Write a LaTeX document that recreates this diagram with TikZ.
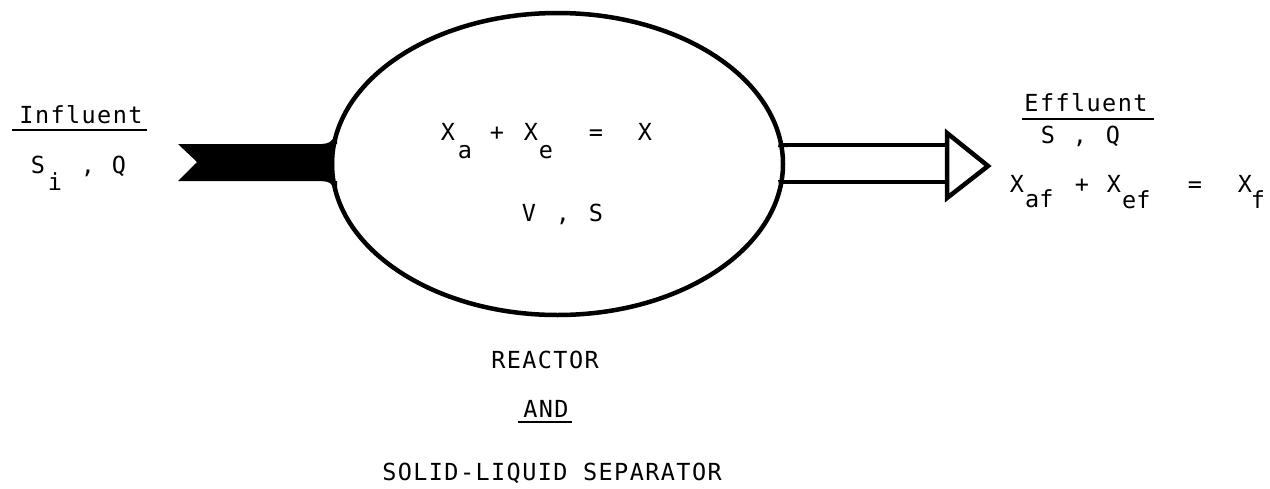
\documentclass[tikz,border=0pt]{standalone}
\usepackage{fontspec}
\newfontfamily\lab[LetterSpace=6]{DejaVu Sans Mono}
\newfontfamily\symf{DejaVu Sans Mono}
\usetikzlibrary{shapes.geometric}
\begin{document}
\begin{tikzpicture}[x=1pt,y=-1pt,
  word/.style={font={\lab\fontsize{23.5}{28}\selectfont}, inner sep=0, anchor=base},
  sym/.style={font={\symf\fontsize{23.5}{28}\selectfont}, inner sep=0, anchor=base},
  outline/.style={line width=4pt, line join=miter, line cap=butt},
  uline/.style={line width=1.4pt}]
\useasboundingbox (0,0) rectangle (1270,488);

% reactor vessel
\node[draw, ellipse, line width=4.5pt, minimum width=451pt, minimum height=302pt, inner sep=0] (reactor) at (557.5,164) {};

% influent band (solid, notched tail)
\coordinate (inTop) at (178,144);
\coordinate (inNotch) at (197,162);
\coordinate (inBot) at (178,181);
\coordinate (inTopR) at (334,144);
\coordinate (inBotR) at (334,181);
\fill (inTop) -- (inTopR) -- (inBotR) -- (inBot) -- (inNotch) -- cycle;
\fill (322,144) .. controls (330,143) .. (337,134) -- (337,144) -- cycle;
\fill (322,181) .. controls (330,182) .. (337,191) -- (337,181) -- cycle;

% effluent hollow arrow
\coordinate (outT0) at (781,145);
\coordinate (outB0) at (781,182);
\coordinate (outT1) at (947,145);
\coordinate (outB1) at (947,182);
\coordinate (headT) at (947,133);
\coordinate (headB) at (947,198);
\coordinate (tip) at (988,166);
\draw[outline] (outT0) -- (outT1);
\draw[outline] (outB0) -- (outB1);
\draw[outline, line width=4.5pt] (headT) -- (tip) -- (headB) -- cycle;
\fill (788,147) .. controls (784,146) .. (780,138) -- (778,147) -- cycle;
\fill (788,180) .. controls (784,181) .. (780,189) -- (778,180) -- cycle;

% influent labels
\node[word] (influent) at (81,123) {Influent};
\coordinate (iu1) at (12,130);
\coordinate (iu2) at (147,130);
\draw[uline] (iu1) -- (iu2);
\node[sym] (si) at (38,173) {S};
\node[sym] (sisub) at (55,190) {i};
\node[sym] (sicomma) at (88,173) {,};
\node[sym] (siq) at (119,173) {Q};

% reactor labels
\node[sym] (xa) at (448,140) {X};
\node[sym] (xasub) at (465,158) {a};
\node[sym] (plus1) at (497,140) {+};
\node[sym] (xe) at (531,140) {X};
\node[sym] (xesub) at (546,158) {e};
\node[sym] (eq1) at (596,140) {=};
\node[sym] (xx) at (645,140) {X};
\node[sym] (vv) at (529,221) {V};
\node[sym] (vcomma) at (563,221) {,};
\node[sym] (vs) at (596,221) {S};

\node[word] (reactortxt) at (545,368) {REACTOR};
\node[word] (andtxt) at (546,417) {AND};
\coordinate (au1) at (518,422);
\coordinate (au2) at (572,422);
\draw[uline, line width=2pt] (au1) -- (au2);
\node[word] (septxt) at (552,480) {SOLID-LIQUID SEPARATOR};

% effluent labels
\node[word] (effluent) at (1086,111) {Effluent};
\coordinate (eu1) at (1022,119);
\coordinate (eu2) at (1154,119);
\draw[uline, line width=2pt] (eu1) -- (eu2);
\node[sym] (es) at (1048,143) {S};
\node[sym] (ecomma) at (1080,143) {,};
\node[sym] (eq) at (1113,143) {Q};

\node[sym] (xaf) at (1017,192) {X};
\node[sym, anchor=base west] (xafsub) at (1025,207) {af};
\node[sym] (plus2) at (1082,192) {+};
\node[sym] (xef) at (1114,192) {X};
\node[sym, anchor=base west] (xefsub) at (1122,208) {ef};
\node[sym] (eq2) at (1195,192) {=};
\node[sym] (xf) at (1245,192) {X};
\node[sym] (xfsub) at (1258,208) {f};
\end{tikzpicture}
\end{document}
